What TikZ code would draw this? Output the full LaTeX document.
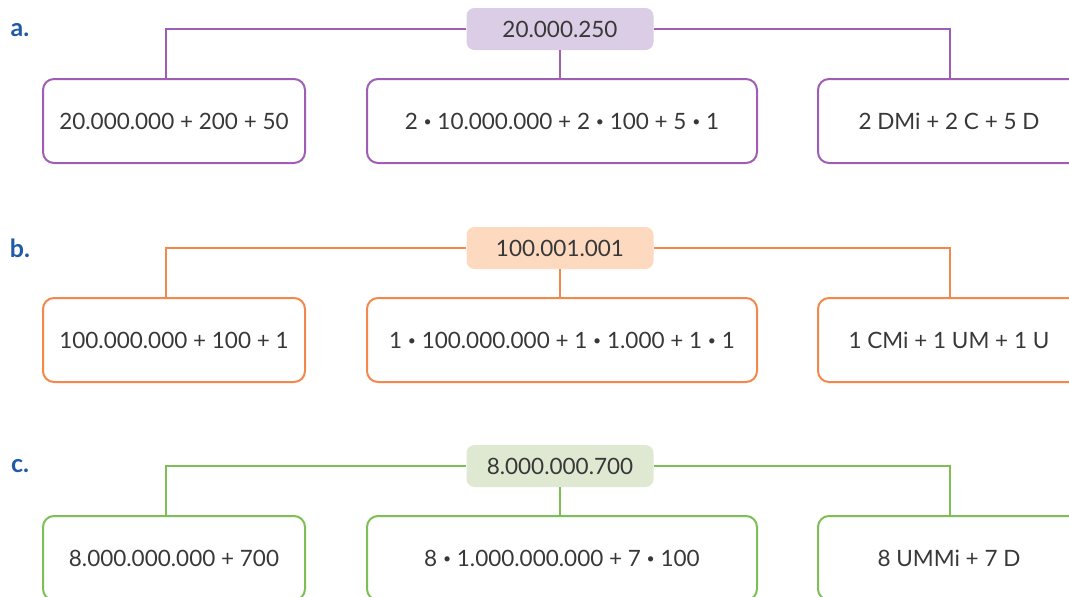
\documentclass[tikz,border=0pt]{standalone}
\usepackage{fontspec}
\setmainfont{Lato}
\definecolor{txt}{HTML}{383838}
\definecolor{lbl}{HTML}{1E5AA8}
\definecolor{purpleline}{HTML}{A05DB4}
\definecolor{purplefill}{HTML}{DCCDE6}
\definecolor{orangeline}{HTML}{F4884C}
\definecolor{orangefill}{HTML}{FDD9C0}
\definecolor{greenline}{HTML}{7EBF55}
\definecolor{greenfill}{HTML}{DFE9D2}
% small centred multiplication dot
\newcommand\timesdot{\raisebox{2.4pt}{\fontsize{14}{14}\selectfont\textbullet}}
\tikzset{
  every node/.style={text=txt, font=\fontsize{22.5}{27}\selectfont},
  total/.style={rounded corners=8pt, minimum width=187pt, minimum height=42pt, inner sep=0pt},
  part/.style={draw, line width=2pt, rounded corners=11pt, minimum height=84pt, inner sep=0pt, fill=white},
  link/.style={line width=2pt},
  item/.style={text=lbl, font=\fontsize{25}{29}\selectfont\bfseries}
}
\begin{document}
\begin{tikzpicture}[x=1pt,y=-1pt]
\useasboundingbox (0,0) rectangle (1069,597);
\clip (0,0) rectangle (1069,597);

% a. 20.000.250
\node[item] (la) at (20,30) {a.};
\node[total, fill=purplefill] (ta) at (560,29) {20.000.250};
\node[part, draw=purpleline, minimum width=262pt] (pa1) at (174,121) {20.000.000 + 200 + 50};
\node[part, draw=purpleline, minimum width=390pt] (pa2) at (562,121) {2 \timesdot{} 10.000.000 + 2 \timesdot{} 100 + 5 \timesdot{} 1};
\node[part, draw=purpleline, minimum width=262pt] (pa3) at (949,121) {2 DMi + 2 C + 5 D};
\draw[link, purpleline] (ta.west) -| ([xshift=-8pt]pa1.north);
\draw[link, purpleline] (ta.east) -| ([xshift=1pt]pa3.north);
\draw[link, purpleline] (ta.south) -- (ta.south |- pa2.north);

% b. 100.001.001
\node[item] (lb) at (20,248) {b.};
\node[total, fill=orangefill] (tb) at (560,248) {100.001.001};
\node[part, draw=orangeline, minimum width=262pt] (pb1) at (174,340) {100.000.000 + 100 + 1};
\node[part, draw=orangeline, minimum width=390pt] (pb2) at (562,340) {1 \timesdot{} 100.000.000 + 1 \timesdot{} 1.000 + 1 \timesdot{} 1};
\node[part, draw=orangeline, minimum width=262pt] (pb3) at (949,340) {1 CMi + 1 UM + 1 U};
\draw[link, orangeline] (tb.west) -| ([xshift=-8pt]pb1.north);
\draw[link, orangeline] (tb.east) -| ([xshift=1pt]pb3.north);
\draw[link, orangeline] (tb.south) -- (tb.south |- pb2.north);

% c. 8.000.000.700
\node[item] (lc) at (20,466) {c.};
\node[total, fill=greenfill] (tc) at (560,466) {8.000.000.700};
\node[part, draw=greenline, minimum width=262pt] (pc1) at (174,558) {8.000.000.000 + 700};
\node[part, draw=greenline, minimum width=390pt] (pc2) at (562,558) {8 \timesdot{} 1.000.000.000 + 7 \timesdot{} 100};
\node[part, draw=greenline, minimum width=262pt] (pc3) at (949,558) {8 UMMi + 7 D};
\draw[link, greenline] (tc.west) -| ([xshift=-8pt]pc1.north);
\draw[link, greenline] (tc.east) -| ([xshift=1pt]pc3.north);
\draw[link, greenline] (tc.south) -- (tc.south |- pc2.north);
\end{tikzpicture}
\end{document}
